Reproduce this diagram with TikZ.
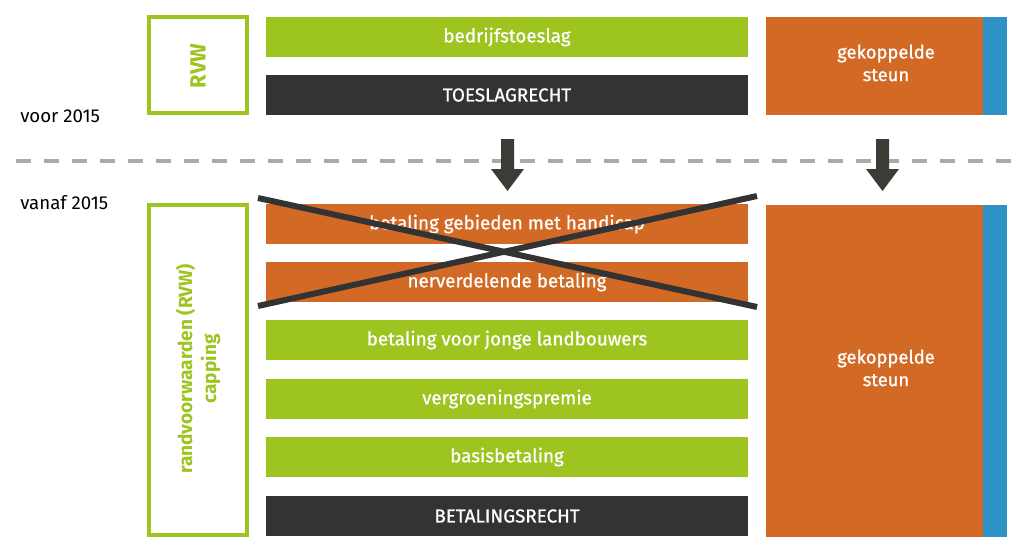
\documentclass[tikz,border=0pt]{standalone}
\usepackage{fontspec}
\setmainfont{Fira Sans}
\definecolor{vgreen}{HTML}{9DC41F}
\definecolor{vorange}{HTML}{D26A26}
\definecolor{vdark}{HTML}{333333}
\definecolor{vblue}{HTML}{2E92C6}
\definecolor{varrow}{HTML}{3A3D35}
\definecolor{vgray}{HTML}{AAAAAA}
\newcommand{\semib}{\addfontfeatures{FakeBold=0.8}}
\begin{document}
\begin{tikzpicture}[x=0.75pt,y=-0.75pt,
  bar/.style={minimum width=361.5pt,minimum height=30pt,inner sep=0pt,text=white,font=\fontsize{14.1}{16}\selectfont\semib},
  gbar/.style={bar,fill=vgreen},
  obar/.style={bar,fill=vorange},
  dbar/.style={bar,fill=vdark},
  frame/.style={draw=vgreen,line width=3pt,fill=white},
  ftext/.style={text=vgreen,font=\bfseries\fontsize{14.3}{18}\selectfont,rotate=90,align=center},
  steun/.style={inner sep=0pt,text=white,text width=150pt,align=center,font=\fontsize{13.8}{17}\selectfont\semib},
  year/.style={anchor=west,inner sep=0pt,font=\fontsize{14}{16}\selectfont},
  cross/.style={draw=vdark,line width=4.5pt},
  bigarrow/.style={fill=varrow}]
\useasboundingbox (0,0) rectangle (1024,550);
% top section
\draw[frame] (149,17) rectangle (247,113);
\node[ftext,font=\bfseries\fontsize{16.5}{18}\selectfont] (rvw) at (198,66) {RVW};
\node[gbar] (b1) at (507,37) {bedrijfstoeslag};
\node[dbar] (b2) at (507,95) {TOESLAGRECHT};
\fill[vorange] (766,17) rectangle (983,115);
\fill[vblue] (983,17) rectangle (1007,115);
\node[steun] (s1) at (886,63) {gekoppelde\\steun};
\node[year] (voor) at (20,116) {voor 2015};
% divider
\draw[vgray,line width=3pt,dash pattern=on 11.5pt off 9.5pt] (16,161) -- (1024,161);
% arrows
\fill[bigarrow] (501,139) -- (514,139) -- (514,169) -- (524,169) -- (507.5,191) -- (491,169) -- (501,169) -- cycle;
\fill[bigarrow] (876,139) -- (889,139) -- (889,169) -- (899,169) -- (882.5,191) -- (866,169) -- (876,169) -- cycle;
% bottom section
\node[year] (vanaf) at (20,203) {vanaf 2015};
\draw[frame] (149,205) rectangle (247,535);
\node[ftext] (rvw2) at (198,369) {randvoorwaarden (RVW)\\capping};
\node[obar] (c1) at (507,224) {betaling gebieden met handicap};
\node[obar] (c2) at (507,282) {nerverdelende betaling};
\node[gbar] (c3) at (507,340) {betaling voor jonge landbouwers};
\node[gbar] (c4) at (507,399) {vergroeningspremie};
\node[gbar] (c5) at (507,457) {basisbetaling};
\node[dbar] (c6) at (507,516) {BETALINGSRECHT};
\fill[vorange] (766,205) rectangle (983,537);
\fill[vblue] (983,205) rectangle (1007,537);
\node[steun] (s2) at (886,368) {gekoppelde\\steun};
% cross
\coordinate (xa) at (258,198);
\coordinate (xb) at (757,307);
\coordinate (xc) at (258,306);
\coordinate (xd) at (757,196);
\draw[cross] (xa) -- (xb);
\draw[cross] (xc) -- (xd);
\end{tikzpicture}
\end{document}
